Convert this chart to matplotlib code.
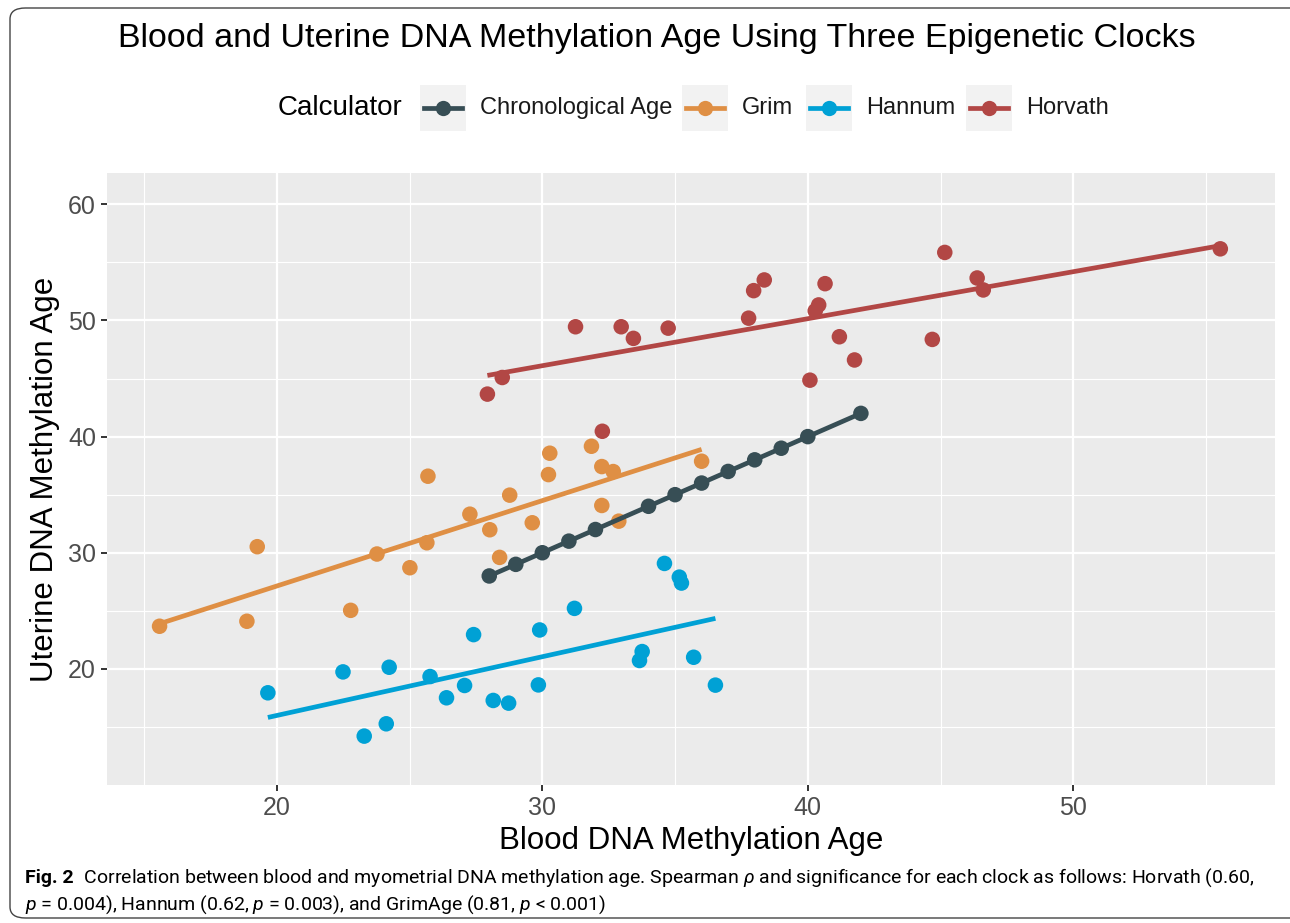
import matplotlib
matplotlib.use('Agg')
import matplotlib.pyplot as plt
from matplotlib.patches import FancyBboxPatch, Rectangle
from matplotlib.lines import Line2D
import numpy as np

# --- data --- #
chrono_x = [28, 29, 30, 31, 32, 34, 35, 36, 37, 38, 39, 40, 42]
chrono_y = [28, 29, 30, 31, 32, 34, 35, 36, 37, 38, 39, 40, 42]

grim_x = [15.58, 18.87, 19.26, 22.78, 23.77, 25.01, 25.65, 25.69, 27.27, 28.02, 28.39,
          28.77, 29.62, 30.23, 30.28, 31.85, 32.24, 32.24, 32.67, 32.88, 36.0]
grim_y = [23.67, 24.1, 30.52, 25.04, 29.89, 28.71, 30.86, 36.59, 33.32, 31.98, 29.6,
          34.96, 32.58, 36.73, 38.57, 39.17, 37.42, 34.07, 36.99, 32.72, 37.88]

hannum_x = [19.66, 22.49, 23.29, 24.12, 24.23, 25.77, 26.39, 27.07, 27.41, 28.15, 28.73,
            29.85, 29.9, 31.21, 33.66, 33.76, 34.6, 35.16, 35.24, 35.7, 36.52]
hannum_y = [17.94, 19.74, 14.21, 15.27, 20.14, 19.34, 17.51, 18.57, 22.95, 17.28, 17.05,
            18.62, 23.35, 25.21, 20.72, 21.49, 29.08, 27.9, 27.39, 21.0, 18.6]

horvath_x = [27.93, 28.49, 31.25, 32.26, 32.97, 33.43, 34.74, 37.77, 37.96, 38.36, 40.08,
             40.28, 40.41, 40.65, 41.19, 41.76, 44.69, 45.16, 46.38, 46.61, 55.54]
horvath_y = [43.66, 45.09, 49.46, 40.46, 49.46, 48.46, 49.34, 50.2, 52.57, 53.49, 44.86,
             50.83, 51.34, 53.17, 48.6, 46.6, 48.37, 55.86, 53.66, 52.63, 56.17]

labels = ['Chronological Age', 'Grim', 'Hannum', 'Horvath']
colors = ['#374E55', '#DF8F44', '#00A1D5', '#B24745']

plt.rcParams['font.family'] = ['Liberation Sans', 'DejaVu Sans']
plt.rcParams['mathtext.fontset'] = 'custom'
plt.rcParams['mathtext.rm'] = 'Roboto'
plt.rcParams['mathtext.it'] = 'Roboto:italic'

fig = plt.figure(figsize=(12.9, 9.23), dpi=100)
ax = fig.add_axes([107/1290, 1-785/923, (1275-107)/1290, (785-173)/923])
ax.set_facecolor('#EBEBEB')

# points
series = [(grim_x, grim_y), (hannum_x, hannum_y), (horvath_x, horvath_y)]
for (xs, ys), c in zip(series, colors[1:]):
    ax.scatter(xs, ys, s=125, color=c, edgecolors='none', zorder=3)

# linear fits (geom_smooth lm)
for (xs, ys), c in zip(series, colors[1:]):
    xs = np.array(xs)
    k, b = np.polyfit(xs, ys, 1)
    xx = np.array([xs.min(), xs.max()])
    ax.plot(xx, k*xx + b, color=c, lw=3.4, zorder=4, solid_capstyle='butt')

ax.plot(chrono_x, chrono_y, color=colors[0], lw=3.4, zorder=5)
ax.scatter(chrono_x, chrono_y, s=125, color=colors[0], edgecolors='none', zorder=6)

ax.set_xlim(13.6, 57.6)
ax.set_ylim(10.0, 62.7)
ax.set_xticks([20, 30, 40, 50])
ax.set_yticks([20, 30, 40, 50, 60])
ax.set_xticks([15, 25, 35, 45, 55], minor=True)
ax.set_yticks([15, 25, 35, 45, 55], minor=True)
ax.grid(which='major', color='white', lw=1.6)
ax.grid(which='minor', color='white', lw=0.8)
ax.set_axisbelow(True)
for s in ax.spines.values():
    s.set_visible(False)
ax.tick_params(which='major', length=4, width=1.4, color='#333333',
               labelsize=18, labelcolor='#4D4D4D', pad=4)
ax.tick_params(which='minor', length=0)

ax.set_xlabel('Blood DNA Methylation Age', fontsize=22.5, labelpad=4)
ax.set_ylabel('Uterine DNA Methylation Age', fontsize=22.5, labelpad=6)

fig.text(657/1290, 1-38/923, 'Blood and Uterine DNA Methylation Age Using Three Epigenetic Clocks',
         fontsize=24.5, ha='center', va='center')

# legend, drawn by hand ggplot-style
ly = 1 - 108/923
fig.text(278/1290, ly, 'Calculator', fontsize=20, va='center', ha='left')
key_x = [420, 682, 806, 966]
for kx, lab, c in zip(key_x, labels, colors):
    fig.patches.append(Rectangle((kx/1290, ly - 23/923), 46/1290, 46/923,
                                 transform=fig.transFigure, facecolor='#F2F2F2',
                                 edgecolor='none'))
    fig.lines.append(Line2D([(kx+4)/1290, (kx+42)/1290], [ly, ly], transform=fig.transFigure,
                            color=c, lw=3.4))
    fig.lines.append(Line2D([(kx+23)/1290], [ly], transform=fig.transFigure, marker='o',
                            markersize=11, color=c, markeredgewidth=0))
    fig.text((kx+60)/1290, ly, lab, fontsize=17, va='center', ha='left', color='#1A1A1A')

# outer rounded frame
fig.patches.append(FancyBboxPatch((10/1290, 5/923), 1300/1290, 910/923,
                                  boxstyle='round,pad=0,rounding_size=0.012',
                                  transform=fig.transFigure, facecolor='none',
                                  edgecolor='#444444', lw=1.0))

# caption
cap_font = ['Roboto', 'DejaVu Sans']
t = fig.text(25/1290, 1-878/923, 'Fig. 2', fontsize=14, fontweight='bold',
             family=cap_font, va='center', ha='left')
ax.annotate('  Correlation between blood and myometrial DNA methylation age. Spearman $\\it{\\rho}$ '
            'and significance for each clock as follows: Horvath (0.60,',
            xy=(1, 0.5), xycoords=t, va='center', ha='left', fontsize=14,
            family=cap_font, annotation_clip=False)
fig.text(25/1290, 1-905/923, '$\\it{p}$ = 0.004), Hannum (0.62, $\\it{p}$ = 0.003), and GrimAge (0.81, $\\it{p}$ < 0.001)',
         fontsize=14, family=cap_font, va='center', ha='left')

plt.savefig('out.png', dpi=100)
